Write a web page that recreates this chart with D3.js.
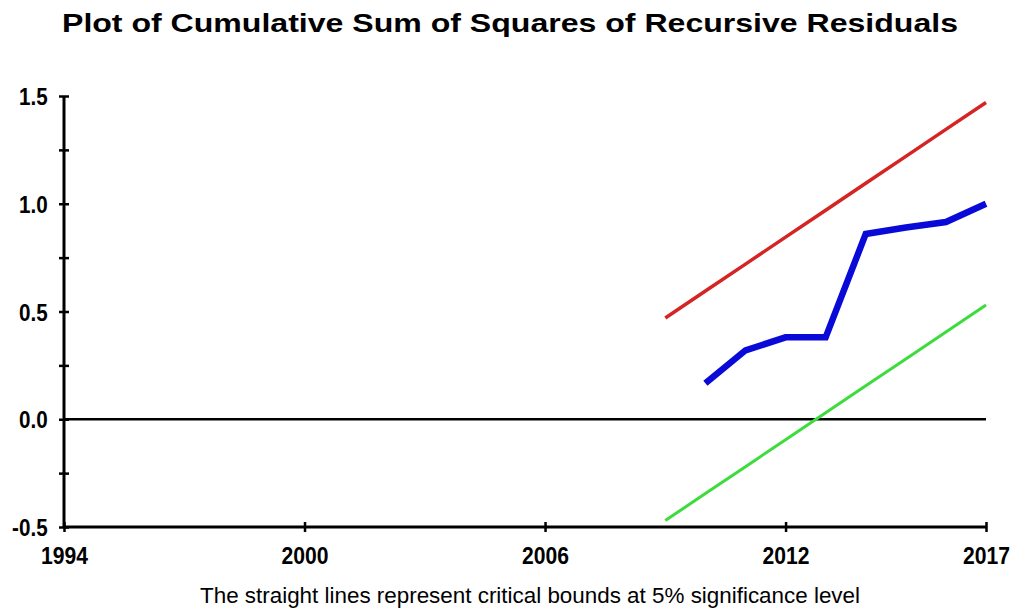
<!DOCTYPE html>
<html>
<head>
<meta charset="utf-8">
<script src="https://cdn.jsdelivr.net/npm/d3@7"></script>
<style>
  html, body { margin: 0; padding: 0; background: #fff; }
  svg { display: block; }
</style>
</head>
<body>
<svg id="chart" width="1015" height="612"></svg>
<script>
// CUSUM of squares test: years, recursive-residual statistic and 5% bounds
const boundYears = [2009, 2010, 2011, 2012, 2013, 2014, 2015, 2016, 2017];
const upperBound = [0.47, 0.595, 0.72, 0.845, 0.97, 1.095, 1.22, 1.345, 1.47];
const lowerBound = [-0.47, -0.345, -0.22, -0.095, 0.03, 0.155, 0.28, 0.405, 0.53];
const cusumYears = [2010, 2011, 2012, 2013, 2014, 2015, 2016, 2017];
const cusumSq = [0.167, 0.32, 0.38, 0.38, 0.86, 0.89, 0.915, 1.0];
const xTickLabels = [1994, 2000, 2006, 2012, 2017];
const yTickValues = [-0.5, -0.25, 0, 0.25, 0.5, 0.75, 1.0, 1.25, 1.5];
const yTickLabels = ["-0.5", "", "0.0", "", "0.5", "", "1.0", "", "1.5"];

const svg = d3.select("#chart");
const plotLeft = 64, plotRight = 986, plotTop = 96, plotBottom = 527;

const x = d3.scaleLinear().domain([1994, 2017]).range([plotLeft, plotRight]);
const y = d3.scaleLinear().domain([-0.5, 1.5]).range([plotBottom, plotTop]);

const font = "'Liberation Sans', Arial, sans-serif";

// title
svg.append("text")
  .attr("x", 510).attr("y", 32)
  .attr("text-anchor", "middle")
  .attr("font-family", font).attr("font-weight", "bold").attr("font-size", 25)
  .attr("textLength", 896).attr("lengthAdjust", "spacingAndGlyphs")
  .text("Plot of Cumulative Sum of Squares of Recursive Residuals");

// y axis
const yAxis = svg.append("g")
  .attr("transform", `translate(${plotLeft},0)`)
  .call(d3.axisLeft(y).tickValues(yTickValues)
    .tickFormat((d, i) => yTickLabels[i]).tickSizeOuter(0).tickPadding(13));
yAxis.select(".domain").attr("stroke", "#000").attr("stroke-width", 3)
  .attr("d", `M0,${plotTop}V${plotBottom}`);
yAxis.selectAll(".tick line").attr("x1", -5).attr("x2", 5)
  .attr("stroke", "#000").attr("stroke-width", 2.5);
yAxis.selectAll(".tick text")
  .attr("font-family", font).attr("font-weight", "bold").attr("font-size", 24)
  .attr("fill", "#000").attr("dy", "0.36em")
  .attr("transform", "scale(0.86,1)");

// x axis
const xAxis = svg.append("g")
  .attr("transform", `translate(0,${plotBottom})`)
  .call(d3.axisBottom(x).tickValues(xTickLabels).tickFormat(d3.format("d"))
    .tickSizeOuter(0).tickPadding(13));
xAxis.select(".domain").attr("stroke", "#000").attr("stroke-width", 3)
  .attr("d", `M${plotLeft},0H${plotRight}`);
xAxis.selectAll(".tick line").attr("y1", -5).attr("y2", 5)
  .attr("stroke", "#000").attr("stroke-width", 2.5);
xAxis.selectAll(".tick text")
  .attr("font-family", font).attr("font-weight", "bold").attr("font-size", 24)
  .attr("fill", "#000").attr("dy", "0.75em")
  .attr("transform", "scale(0.88,1)");

// zero reference line
svg.append("line")
  .attr("x1", x(1994)).attr("x2", x(2017))
  .attr("y1", y(0)).attr("y2", y(0))
  .attr("stroke", "#000").attr("stroke-width", 2.5);

const line = d3.line().x(d => x(d[0])).y(d => y(d[1]));

// critical bounds
svg.append("path")
  .datum(boundYears.map((yr, i) => [yr, upperBound[i]]))
  .attr("d", line).attr("fill", "none")
  .attr("stroke", "#d42424").attr("stroke-width", 3.5);
svg.append("path")
  .datum(boundYears.map((yr, i) => [yr, lowerBound[i]]))
  .attr("d", line).attr("fill", "none")
  .attr("stroke", "#3ddc3d").attr("stroke-width", 3);

// cumulative sum of squares
svg.append("path")
  .datum(cusumYears.map((yr, i) => [yr, cusumSq[i]]))
  .attr("d", line).attr("fill", "none")
  .attr("stroke", "#0a0ad8").attr("stroke-width", 6.5)
  .attr("stroke-linejoin", "miter");

// footnote
svg.append("text")
  .attr("x", 530).attr("y", 603)
  .attr("text-anchor", "middle")
  .attr("font-family", font).attr("font-size", 22)
  .attr("textLength", 660).attr("lengthAdjust", "spacingAndGlyphs")
  .text("The straight lines represent critical bounds at 5% significance level");
</script>
</body>
</html>
